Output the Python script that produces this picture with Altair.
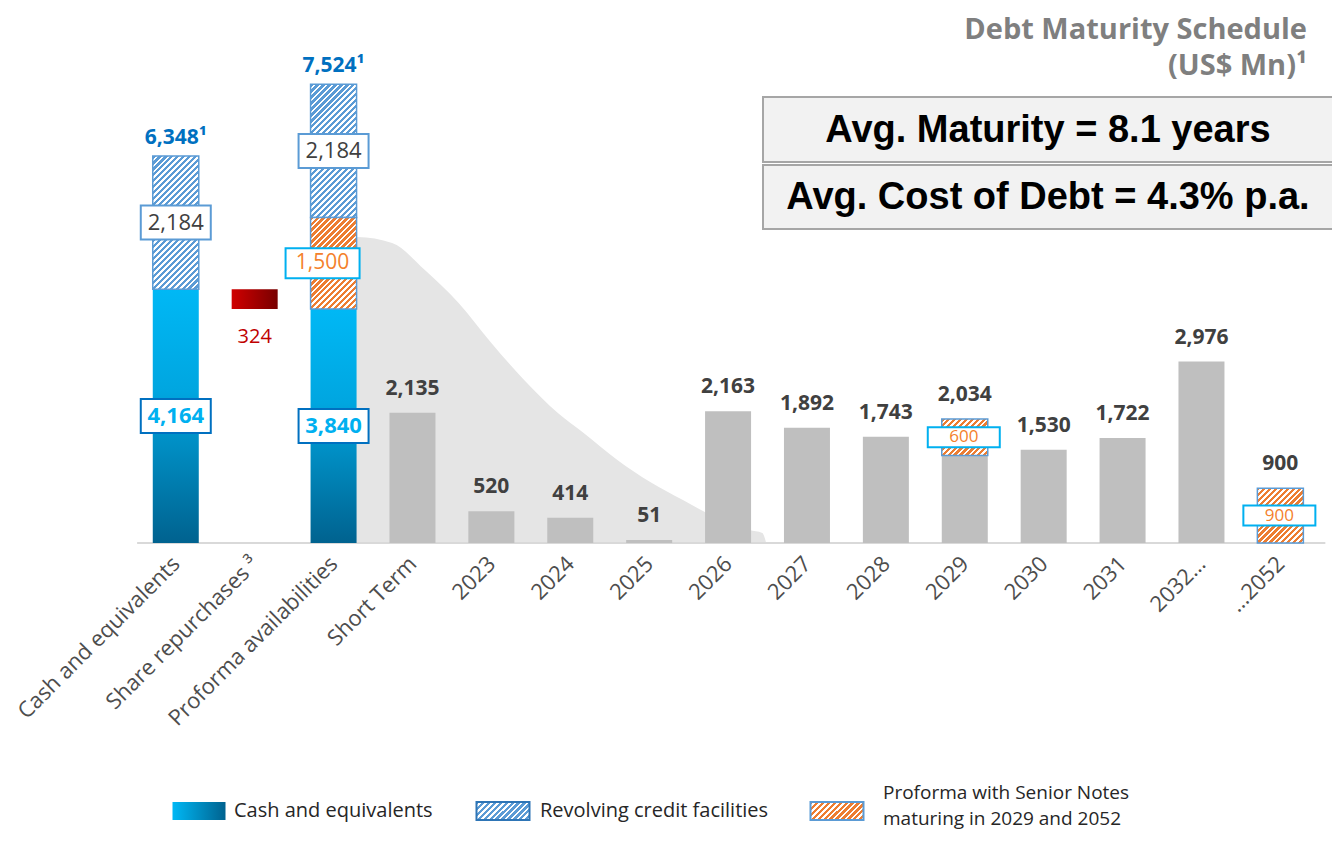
import json
import altair as alt
import pandas as pd

# ---------------- data ----------------
categories = ["Cash and equivalents", "Share repurchases ³", "Proforma availabilities",
              "Short Term", "2023", "2024", "2025", "2026", "2027", "2028", "2029",
              "2030", "2031", "2032…", "…2052"]
cash_idx = [0, 2]
cash_values = [4164, 3840]
share_repurchase_idx = 1
share_repurchases = 324
revolving_idx = [0, 2]
revolving_values = [2184, 2184]
totals_idx = [0, 2]
totals_values = [6348, 7524]
maturity_idx = list(range(3, 15))
maturity_values = [2135, 520, 414, 51, 2163, 1892, 1743, 2034, 1530, 1722, 2976, 900]
notes_idx = [2, 10, 14]
notes_values = [1500, 600, 900]
hump_x = [2.0, 2.302, 2.742, 3.157, 3.585, 4.0, 4.415, 4.843, 5.17, 5.597, 6.013,
          6.428, 6.73, 7.27, 7.434, 7.484]
hump_y = [5020, 5020, 4921, 4478, 3937, 3281, 2674, 2133, 1805, 1362, 1001,
          705, 492, 213, 164, 0]
baseline_span = [-0.49, 14.57]

# ---------------- layout / style ----------------
PAD_TOP = 20
W, H = 1324, 515
YMAX = 8448
X0, X1 = -2.063, 14.591
BAR_W = 46
FONT = "Open Sans"
BLUE_H = "#5b9bd5"
ORANGE = "#ed7d31"


def px(v):
    return v * H / YMAX


def stripes(w, h, c1, c2="#ffffff", period=6.0, frac=0.55):
    k = (w + h) / (w * w + h * h)
    n = max(1, round((w + h) / period))
    stops = []
    for i in range(n):
        a, m, b = i / n, (i + frac) / n, (i + 1) / n
        stops += [{"offset": a, "color": c1}, {"offset": m, "color": c1},
                  {"offset": m, "color": c2}, {"offset": b, "color": c2}]
    return {"gradient": "linear", "x1": 0, "y1": 0, "x2": k * w, "y2": k * h, "stops": stops}


def box_path(w, h):
    hh = h / w
    return f"M-1,-{hh:.4f}L1,-{hh:.4f}L1,{hh:.4f}L-1,{hh:.4f}Z"


def sy(screen_y):
    return screen_y - 8 - PAD_TOP


def sx(screen_x):
    return screen_x - 8


cash_grad = {"gradient": "linear", "x1": 0, "y1": 0, "x2": 0, "y2": 1,
             "stops": [{"offset": 0, "color": "#00b8f5"}, {"offset": 0.4, "color": "#00a6e0"},
                       {"offset": 1, "color": "#00628f"}]}
cash_grad_h = {"gradient": "linear", "x1": 0, "y1": 0, "x2": 1, "y2": 0,
               "stops": [{"offset": 0, "color": "#00b8f5"}, {"offset": 1, "color": "#00628f"}]}
red_grad = {"gradient": "linear", "x1": 0, "y1": 0, "x2": 1, "y2": 0,
            "stops": [{"offset": 0, "color": "#d00000"}, {"offset": 1, "color": "#780000"}]}

axis = alt.Axis(values=list(range(15)),
                labelExpr=f"{json.dumps(categories, ensure_ascii=False)}[datum.value]",
                labelAngle=-45, labelAlign="right", labelBaseline="middle",
                labelFont=FONT, labelFontSize=22, labelColor="#4d4d4d", labelPadding=17,
                labelLimit=400, labelOverlap=False, labelBound=False, labelFlush=False,
                ticks=False, domain=False, grid=False, title=None)
xs = alt.Scale(domain=[X0, X1], nice=False, zero=False)
ys = alt.Scale(domain=[0, YMAX], nice=False, zero=False)


def X(field="idx"):
    return alt.X(f"{field}:Q", scale=xs, axis=axis)


def Y(field):
    return alt.Y(f"{field}:Q", scale=ys, axis=None)


# ---------------- tables ----------------
hump = pd.DataFrame({"idx": hump_x, "v": hump_y})
cash = pd.DataFrame({"idx": cash_idx, "start": 0, "end": cash_values,
                     "mid": [v / 2 for v in cash_values],
                     "label": [f"{v:,}" for v in cash_values]})
share = pd.DataFrame({"idx": [share_repurchase_idx], "start": [cash_values[1]],
                      "end": [cash_values[1] + share_repurchases],
                      "label": [f"{share_repurchases:,}"]})
rev_start = [cash_values[0], cash_values[1] + notes_values[0]]
revolving = pd.DataFrame({"idx": revolving_idx, "start": rev_start,
                          "end": [s + v for s, v in zip(rev_start, revolving_values)],
                          "mid": [s + v / 2 for s, v in zip(rev_start, revolving_values)],
                          "label": [f"{v:,}" for v in revolving_values]})
totals = pd.DataFrame({"idx": totals_idx, "v": totals_values,
                       "label": [f"{v:,}¹" for v in totals_values]})
notes_map = dict(zip(notes_idx, notes_values))
mat_total = dict(zip(maturity_idx, maturity_values))
notes_top = {2: cash_values[1] + notes_values[0], 10: mat_total[10], 14: mat_total[14]}
notes = pd.DataFrame({"idx": notes_idx,
                      "start": [notes_top[i] - notes_map[i] for i in notes_idx],
                      "end": [notes_top[i] for i in notes_idx],
                      "mid": [notes_top[i] - notes_map[i] / 2 for i in notes_idx],
                      "label": [f"{v:,}" for v in notes_values]})
gray = pd.DataFrame({"idx": maturity_idx,
                     "start": 0,
                     "end": [v - notes_map.get(i, 0) for i, v in zip(maturity_idx, maturity_values)]})
gray = gray[gray["end"] > 0]
mat = pd.DataFrame({"idx": maturity_idx, "v": maturity_values})
base = pd.DataFrame({"a": [baseline_span[0]], "b": [baseline_span[1]], "z": [0]})
one = pd.DataFrame({"k": [0]})

layers = []
layers.append(alt.Chart(hump).mark_area(color="#e5e5e5", interpolate="monotone").encode(x=X(), y=Y("v")))
layers.append(alt.Chart(base).mark_rule(color="#d9d9d9", strokeWidth=2).encode(
    x=X("a"), x2="b", y=Y("z")))
layers.append(alt.Chart(gray).mark_bar(size=BAR_W, color="#bfbfbf").encode(x=X(), y=Y("start"), y2="end"))
layers.append(alt.Chart(cash).mark_bar(size=BAR_W, fill=cash_grad).encode(x=X(), y=Y("start"), y2="end"))
layers.append(alt.Chart(share).mark_bar(size=BAR_W, fill=red_grad).encode(x=X(), y=Y("start"), y2="end"))
layers.append(alt.Chart(revolving).mark_bar(
    size=BAR_W, fill=stripes(BAR_W, px(revolving_values[0]), BLUE_H),
    stroke=BLUE_H, strokeWidth=1.5).encode(x=X(), y=Y("start"), y2="end"))
for i in notes_idx:
    layers.append(alt.Chart(notes[notes["idx"] == i]).mark_bar(
        size=BAR_W, fill=stripes(BAR_W, px(notes_map[i]), ORANGE),
        stroke=BLUE_H, strokeWidth=1.5).encode(x=X(), y=Y("start"), y2="end"))


def box_layer(df, w, h, stroke, xoff=0):
    return alt.Chart(df).mark_point(shape=box_path(w, h), size=w * w, filled=True,
                                    fill="white", stroke=stroke, strokeWidth=2,
                                    opacity=1, fillOpacity=1, xOffset=xoff).encode(x=X(), y=Y("mid"))


def label_layer(df, color, size, weight="normal", xoff=0):
    return alt.Chart(df).mark_text(font=FONT, fontSize=size, fontWeight=weight, color=color,
                                   baseline="middle", align="center", xOffset=xoff).encode(
        x=X(), y=Y("mid"), text="label:N")


layers.append(box_layer(revolving, 70, 34, BLUE_H))
layers.append(label_layer(revolving, "#404040", 22))
layers.append(box_layer(cash, 70, 34, "#0070c0"))
layers.append(label_layer(cash, "#00b0f0", 22, "bold"))
big_note = notes[notes["idx"] == 2]
small_notes = notes[notes["idx"] != 2]
layers.append(box_layer(big_note, 74, 30, "#00b0f0", -11))
layers.append(label_layer(big_note, "#f4812c", 21, "normal", -11))
layers.append(box_layer(small_notes, 72, 20, "#00b0f0", -1))
layers.append(label_layer(small_notes, "#f4812c", 17, "normal", -1))

layers.append(alt.Chart(mat).mark_text(font=FONT, fontSize=21, fontWeight="bold", color="#404040",
                                       baseline="bottom", dy=-14).encode(
    x=X(), y=Y("v"), text=alt.Text("v:Q", format=",")))
layers.append(alt.Chart(totals).mark_text(font=FONT, fontSize=21, fontWeight="bold", color="#0070c0",
                                          baseline="bottom", dy=-8).encode(
    x=X(), y=Y("v"), text="label:N"))
layers.append(alt.Chart(share).mark_text(font=FONT, fontSize=20, color="#c00000",
                                         baseline="top", dy=18).encode(
    x=X(), y=Y("start"), text="label:N"))

# ---------------- title & info boxes ----------------
for ty, txt in [(30, "Debt Maturity Schedule"), (66, "(US$ Mn)¹")]:
    layers.append(alt.Chart(one).mark_text(font=FONT, fontSize=29, fontWeight="bold", color="#7f7f7f",
                                           align="right", baseline="middle").encode(
        x=alt.value(sx(1307)), y=alt.value(sy(ty)), text=alt.value(txt)))
for y0, y1, txt in [(97, 162, "Avg. Maturity = 8.1 years"), (165, 229, "Avg. Cost of Debt = 4.3% p.a.")]:
    layers.append(alt.Chart(one).mark_rect(fill="#f2f2f2", stroke="#a6a6a6", strokeWidth=2).encode(
        x=alt.value(sx(763)), x2=alt.value(sx(1334)), y=alt.value(sy(y0)), y2=alt.value(sy(y1))))
    layers.append(alt.Chart(one).mark_text(font="Liberation Sans", fontSize=38, fontWeight="bold",
                                           color="#000000", align="center", baseline="middle").encode(
        x=alt.value(sx(1048)), y=alt.value(sy((y0 + y1) / 2 + 1)), text=alt.value(txt)))

# ---------------- legend ----------------
LY = sy(811)
sw_w, sw_h = 53, 18
layers.append(alt.Chart(one).mark_point(shape=box_path(sw_w, sw_h), size=sw_w ** 2, filled=True,
                                        fill=cash_grad_h, strokeOpacity=0, opacity=1).encode(
    x=alt.value(sx(199)), y=alt.value(LY)))
layers.append(alt.Chart(one).mark_point(shape=box_path(sw_w, sw_h), size=sw_w ** 2, filled=True,
                                        fill=stripes(sw_w, sw_h, BLUE_H), stroke="#2e75b6",
                                        strokeWidth=2, opacity=1).encode(
    x=alt.value(sx(503)), y=alt.value(LY)))
layers.append(alt.Chart(one).mark_point(shape=box_path(sw_w, sw_h), size=sw_w ** 2, filled=True,
                                        fill=stripes(sw_w, sw_h, ORANGE), stroke=BLUE_H,
                                        strokeWidth=2, opacity=1).encode(
    x=alt.value(sx(837)), y=alt.value(LY)))
for lx, ly, txt, fs in [(234, 811, "Cash and equivalents", 20),
                        (540, 811, "Revolving credit facilities", 20),
                        (883, 793, "Proforma with Senior Notes", 19),
                        (883, 819, "maturing in 2029 and 2052", 19)]:
    layers.append(alt.Chart(one).mark_text(font=FONT, fontSize=fs, color="#262626", align="left",
                                           baseline="middle").encode(
        x=alt.value(sx(lx)), y=alt.value(sy(ly)), text=alt.value(txt)))

chart = alt.layer(*layers).properties(
    width=W, height=H,
    padding={"left": 0, "top": PAD_TOP, "right": 0, "bottom": 290},
    autosize=alt.AutoSizeParams(type="none"),
    background="white",
).configure_view(stroke=None)

chart.save("out.html", embed_options={"renderer": "svg", "actions": False})
